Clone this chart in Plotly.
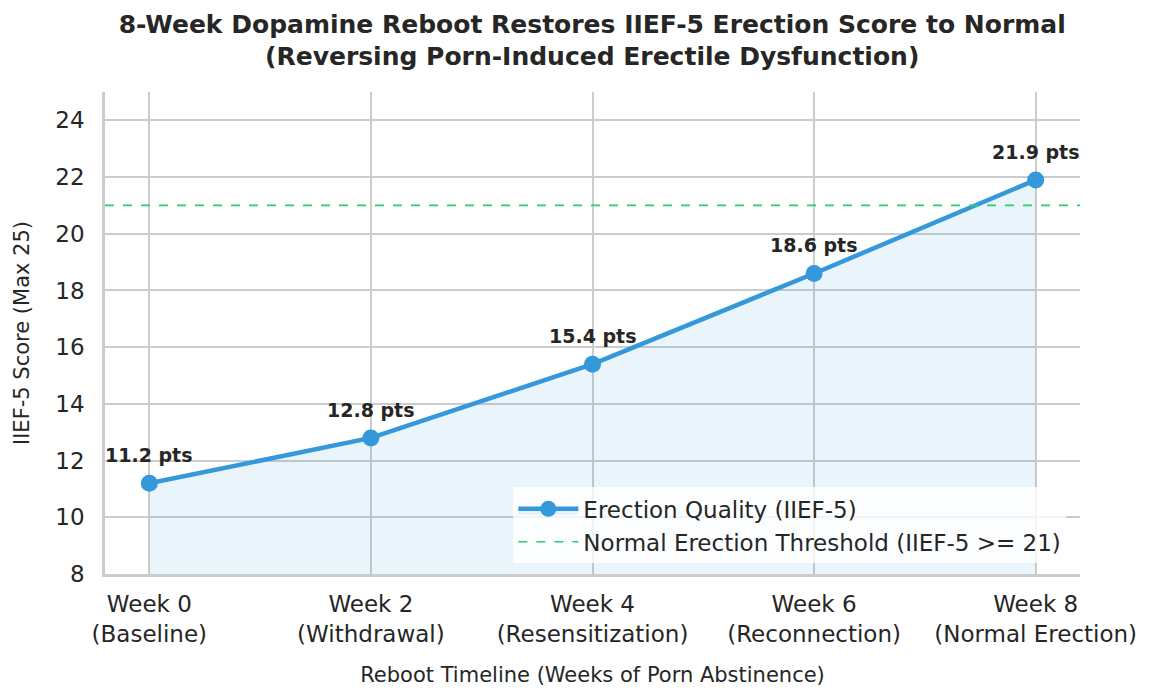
import plotly.graph_objects as go

categories = ["Week 0<br>(Baseline)", "Week 2<br>(Withdrawal)", "Week 4<br>(Resensitization)",
              "Week 6<br>(Reconnection)", "Week 8<br>(Normal Erection)"]
scores = [11.2, 12.8, 15.4, 18.6, 21.9]
threshold = 21
y_ticks = [8, 10, 12, 14, 16, 18, 20, 22, 24]

x_idx = list(range(len(categories)))
FONT = "DejaVu Sans"
TXT = "#262626"

fig = go.Figure()
fig.add_trace(go.Scatter(
    x=x_idx, y=scores, mode="lines+markers", name="Erection Quality (IIEF-5)",
    line=dict(color="#3498db", width=4.5), marker=dict(size=17, color="#3498db"),
    fill="tozeroy", fillcolor="rgba(52,152,219,0.11)",
))
fig.add_trace(go.Scatter(
    x=[-0.2, 4.2], y=[threshold, threshold], mode="lines",
    name="Normal Erection Threshold (IIEF-5 >= 21)",
    line=dict(color="#2ecc71", width=1.6, dash="dash"),
))
for i, v in zip(x_idx, scores):
    fig.add_annotation(x=i, y=v, text=f"<b>{v:.1f} pts</b>", showarrow=False,
                       yshift=28, font=dict(family=FONT, size=19, color=TXT))

fig.update_layout(
    width=1151, height=699,
    margin=dict(l=105, r=71, t=92, b=125),
    paper_bgcolor="white", plot_bgcolor="white",
    font=dict(family=FONT, color=TXT),
    title=dict(text="<b>8-Week Dopamine Reboot Restores IIEF-5 Erection Score to Normal<br>(Reversing Porn-Induced Erectile Dysfunction)</b>",
               x=0.5145, xanchor="center", y=0.953, yanchor="top",
               font=dict(family=FONT, size=25, color=TXT)),
    xaxis=dict(range=[-0.2, 4.2], tickvals=x_idx, ticktext=categories,
               showgrid=True, gridcolor="#cccccc", gridwidth=1.5,
               showline=True, linecolor="#cccccc", linewidth=2.5,
               zeroline=False, ticks="outside", ticklen=8, tickcolor="rgba(0,0,0,0)",
               tickfont=dict(size=23, color=TXT),
               title=dict(text="Reboot Timeline (Weeks of Porn Abstinence)",
                          font=dict(size=21, color=TXT), standoff=22)),
    yaxis=dict(range=[8, 25], tickvals=y_ticks,
               showgrid=True, gridcolor="#cccccc", gridwidth=1.5,
               showline=True, linecolor="#cccccc", linewidth=2.5,
               zeroline=False, ticks="outside", ticklen=13, tickcolor="rgba(0,0,0,0)",
               tickfont=dict(size=23, color=TXT),
               title=dict(text="IIEF-5 Score (Max 25)", font=dict(size=21, color=TXT), standoff=21)),
    legend=dict(x=0.986, xanchor="right", y=0.022, yanchor="bottom",
                bgcolor="rgba(255,255,255,0.8)", borderwidth=0, itemwidth=60,
                font=dict(family=FONT, size=23, color=TXT)),
    showlegend=True,
)
fig.write_html("out.html")
